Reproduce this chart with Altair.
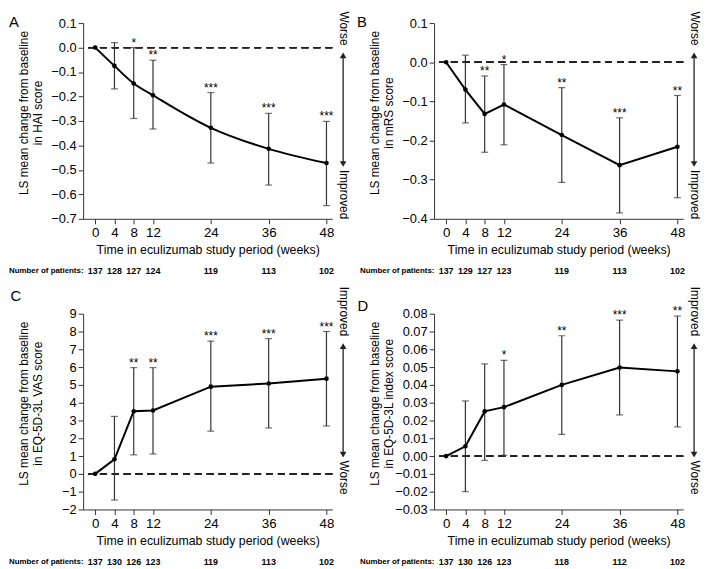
import altair as alt
import pandas as pd

FONT = "Liberation Sans"
weeks = [0, 4, 8, 12, 24, 36, 48]

# Panel A: HAI
hai_mean = [0.0, -0.075, -0.147, -0.195, -0.328, -0.414, -0.472]
hai_upper = [0.0, 0.020, 0.000, -0.052, -0.184, -0.269, -0.302]
hai_lower = [0.0, -0.169, -0.290, -0.333, -0.472, -0.562, -0.646]
hai_stars = ["", "", "*", "**", "***", "***", "***"]
hai_n = [137, 128, 127, 124, 119, 113, 102]

# Panel B: mRS
mrs_mean = [0.0, -0.070, -0.132, -0.108, -0.186, -0.263, -0.216]
mrs_upper = [0.0, 0.018, -0.035, -0.006, -0.065, -0.142, -0.085]
mrs_lower = [0.0, -0.155, -0.230, -0.211, -0.307, -0.385, -0.346]
mrs_stars = ["", "", "**", "*", "**", "***", "**"]
mrs_n = [137, 129, 127, 123, 119, 113, 102]

# Panel C: EQ-5D-3L VAS
vas_mean = [0.0, 0.82, 3.52, 3.56, 4.90, 5.08, 5.35]
vas_upper = [0.0, 3.23, 5.97, 5.97, 7.46, 7.60, 8.00]
vas_lower = [0.0, -1.47, 1.07, 1.12, 2.40, 2.58, 2.69]
vas_stars = ["", "", "**", "**", "***", "***", "***"]
vas_n = [137, 130, 126, 123, 119, 113, 102]

# Panel D: EQ-5D-3L index
idx_mean = [0.0, 0.0055, 0.0251, 0.0275, 0.0400, 0.0498, 0.0476]
idx_upper = [0.0, 0.0310, 0.0518, 0.0538, 0.0676, 0.0764, 0.0787]
idx_lower = [0.0, -0.0200, -0.0024, 0.0005, 0.0122, 0.0231, 0.0164]
idx_stars = ["", "", "", "*", "**", "***", "**"]
idx_n = [137, 130, 126, 123, 118, 112, 102]

W = 252
H = 198
K = H / 200.0


def panel(letter, letter_pos, ytitle, mean, lower, upper, stars, n, ydom, yvals, yfmt,
          top_word, bottom_word, smooth=False):
    df = pd.DataFrame({"week": weeks, "mean": mean, "lower": lower, "upper": upper,
                       "star": stars, "n": [str(v) for v in n]})
    err = df[df["week"] > 0]
    xs = alt.Scale(domain=[-2.5, 49.2], nice=False, zero=False)
    xaxis = alt.Axis(values=weeks, title="Time in eculizumab study period (weeks)",
                     grid=False, tickSize=5, labelPadding=2, titlePadding=5,
                     labelFontSize=13.5, titleFontSize=12.5, labelFlush=False)
    ys = alt.Scale(domain=ydom, nice=False, zero=False)
    yaxis = alt.Axis(values=yvals, format=yfmt, title=None, grid=False, tickSize=5,
                     labelFontSize=13, labelPadding=2)

    def X():
        return alt.X("week:Q", scale=xs, axis=xaxis)

    def Y(f):
        return alt.Y(f + ":Q", scale=ys, axis=yaxis)

    zero = alt.Chart(df).mark_rule(strokeDash=[7, 5], color="#222", strokeWidth=1.2).encode(
        y=alt.datum(0, scale=ys, axis=yaxis))
    bars = alt.Chart(err).mark_rule(color="#333", strokeWidth=1.2).encode(
        x=X(), y=Y("lower"), y2="upper:Q")
    cap_hi = alt.Chart(err).mark_tick(orient="horizontal", size=7, thickness=1.2, color="#333").encode(
        x=X(), y=Y("upper"))
    cap_lo = alt.Chart(err).mark_tick(orient="horizontal", size=7, thickness=1.2, color="#333").encode(
        x=X(), y=Y("lower"))
    line = alt.Chart(df).mark_line(color="black", strokeWidth=2,
                                   interpolate="monotone" if smooth else "linear").encode(
        x=X(), y=Y("mean"))
    pts = alt.Chart(df).mark_point(filled=True, color="black", size=22, opacity=1).encode(
        x=X(), y=Y("mean"))
    star = alt.Chart(err).mark_text(baseline="alphabetic", dy=-1, fontSize=12, font=FONT,
                                    color="black").encode(x=X(), y=Y("upper"), text="star:N")
    nums = alt.Chart(df).mark_text(baseline="middle", fontSize=9, fontWeight="bold", font=FONT,
                                   color="black").encode(x=X(), y=alt.value(H + 53), text="n:N")

    one = pd.DataFrame({"k": [0]})
    npat = alt.Chart(one).mark_text(text="Number of patients:", align="left", baseline="middle",
                                    fontSize=8, fontWeight="bold", font=FONT, color="black").encode(
        x=alt.value(-75), y=alt.value(H + 53))
    let = alt.Chart(one).mark_text(text=letter, align="center", baseline="middle", fontSize=15,
                                   font=FONT, color="black").encode(
        x=alt.value(letter_pos[0]), y=alt.value(letter_pos[1]))
    t1 = alt.Chart(one).mark_text(text=ytitle[0], angle=270, align="center", baseline="middle",
                                  fontSize=12, font=FONT, color="black").encode(
        x=alt.value(-60), y=alt.value(H / 2 - 8))
    t2 = alt.Chart(one).mark_text(text=ytitle[1], angle=270, align="center", baseline="middle",
                                  fontSize=12, font=FONT, color="black").encode(
        x=alt.value(-46), y=alt.value(H / 2 - 8))
    ax = W + 11
    arrow = alt.Chart(one).mark_rule(color="#222", strokeWidth=1.3).encode(
        x=alt.value(ax), y=alt.value(33 * K), y2=alt.value(144 * K))
    head_up = alt.Chart(one).mark_point(shape="triangle-up", filled=True, color="#222", size=45,
                                        opacity=1).encode(x=alt.value(ax), y=alt.value(33 * K))
    head_dn = alt.Chart(one).mark_point(shape="triangle-down", filled=True, color="#222", size=45,
                                        opacity=1).encode(x=alt.value(ax), y=alt.value(144 * K))
    w_top = alt.Chart(one).mark_text(text=top_word, angle=90, align="right", baseline="middle",
                                     fontSize=12, font=FONT, color="black").encode(
        x=alt.value(ax + 1), y=alt.value(23 * K))
    w_bot = alt.Chart(one).mark_text(text=bottom_word, angle=90, align="left", baseline="middle",
                                     fontSize=12, font=FONT, color="black").encode(
        x=alt.value(ax + 1), y=alt.value(150 * K))

    return alt.layer(zero, bars, cap_hi, cap_lo, line, pts, star, nums, npat, let, t1, t2,
                     arrow, head_up, head_dn, w_top, w_bot).properties(width=W, height=H)


pA = panel("A", (-70, -1), ["LS mean change from baseline", "in HAI score"],
           hai_mean, hai_lower, hai_upper, hai_stars, hai_n, [-0.7, 0.1],
           [-0.7, -0.6, -0.5, -0.4, -0.3, -0.2, -0.1, 0.0, 0.1], ".1f", "Worse", "Improved", smooth=True)
pB = panel("B", (-73, -1), ["LS mean change from baseline", "in mRS score"],
           mrs_mean, mrs_lower, mrs_upper, mrs_stars, mrs_n, [-0.4, 0.1],
           [-0.4, -0.3, -0.2, -0.1, 0.0, 0.1], ".1f", "Worse", "Improved")
pC = panel("C", (-68, -18), ["LS mean change from baseline", "in EQ-5D-3L VAS score"],
           vas_mean, vas_lower, vas_upper, vas_stars, vas_n, [-2, 9],
           [-2, -1, 0, 1, 2, 3, 4, 5, 6, 7, 8, 9], "d", "Improved", "Worse")
pD = panel("D", (-72, -8), ["LS mean change from baseline", "in EQ-5D-3L index score"],
           idx_mean, idx_lower, idx_upper, idx_stars, idx_n, [-0.03, 0.08],
           [-0.03, -0.02, -0.01, 0.0, 0.01, 0.02, 0.03, 0.04, 0.05, 0.06, 0.07, 0.08], ".2f",
           "Improved", "Worse")

chart = alt.concat(pA, pB, pC, pD, columns=2, spacing={"row": 96, "column": 103},
                   bounds="flush").properties(
    padding=0, background="white"
).configure_view(stroke=None).configure_axis(
    domainColor="#333", tickColor="#333", labelColor="black", titleColor="black",
    labelFont=FONT, titleFont=FONT, titleFontWeight="normal", domainWidth=1, tickWidth=1
)

chart.save("out.html", embed_options={"renderer": "svg", "actions": False})
